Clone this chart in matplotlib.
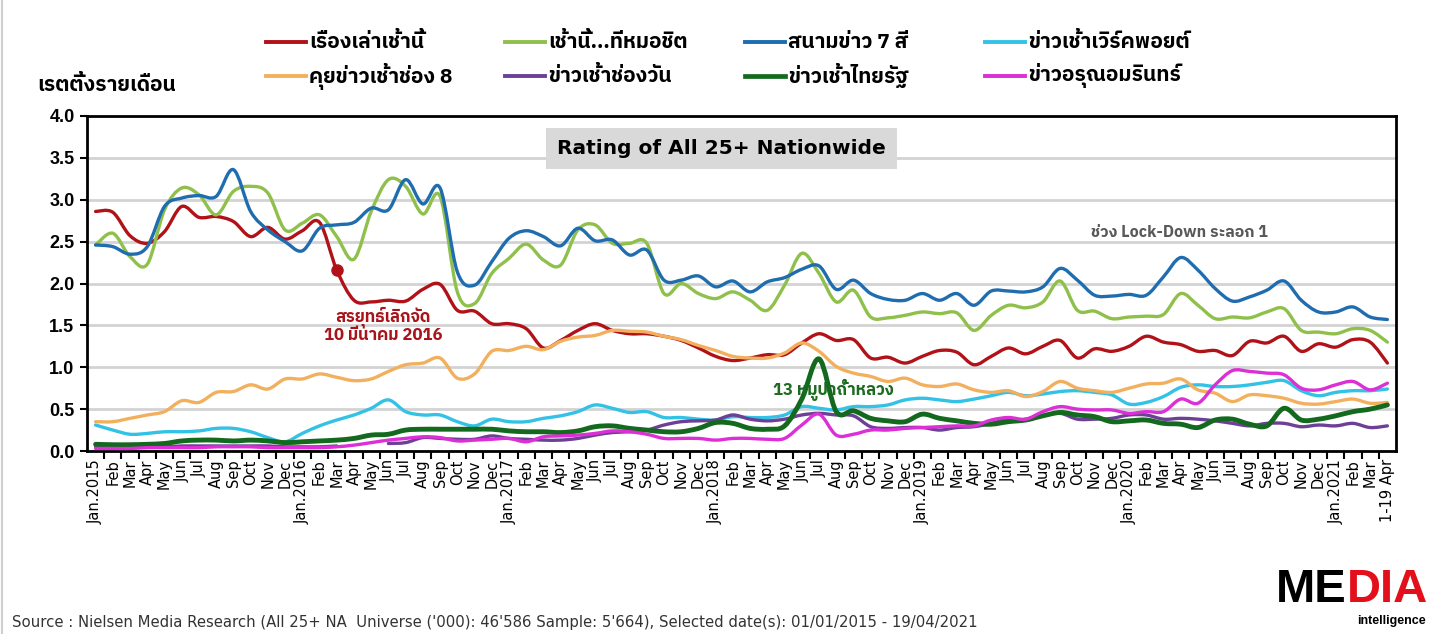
import numpy as np
import matplotlib
matplotlib.use("Agg")
import matplotlib.pyplot as plt
from matplotlib.path import Path
from matplotlib.patches import PathPatch
from matplotlib.lines import Line2D
from matplotlib import font_manager
from matplotlib.ft2font import FT2Font

# monthly rating, Jan 2015 .. 1-19 Apr 2021
month_names = ["Jan", "Feb", "Mar", "Apr", "May", "Jun",
               "Jul", "Aug", "Sep", "Oct", "Nov", "Dec"]
years = [2015, 2016, 2017, 2018, 2019, 2020, 2021]
labels = []
for yr in years:
    for m in month_names:
        labels.append(f"Jan.{yr}" if m == "Jan" else m)
labels = labels[:75] + ["1-19 Apr"]

series_names = ["เรื่องเล่าเช้านี้", "เช้านี้...ที่หมอชิต", "สนามข่าว 7 สี", "ข่าวเช้าเวิร์คพอยต์",
                "คุยข่าวเช้าช่อง 8", "ข่าวเช้าช่องวัน", "ข่าวเช้าไทยรัฐ", "ข่าวอรุณอมรินทร์"]
colors = ["#b01218", "#8fc04b", "#1f6daf", "#33c2e6",
          "#f2b05e", "#6e3f96", "#13691d", "#dc2fd6"]

rueang_lao = [2.86, 2.85, 2.57, 2.48, 2.62, 2.92, 2.79, 2.80, 2.74, 2.56, 2.67, 2.53,
              2.63, 2.73, 2.16, 1.80, 1.78, 1.80, 1.79, 1.93, 1.99, 1.68, 1.67, 1.52,
              1.52, 1.46, 1.23, 1.32, 1.44, 1.52, 1.44, 1.40, 1.40, 1.37, 1.32, 1.23,
              1.13, 1.08, 1.11, 1.15, 1.15, 1.29, 1.40, 1.32, 1.33, 1.11, 1.12, 1.05,
              1.13, 1.20, 1.18, 1.03, 1.13, 1.23, 1.16, 1.25, 1.32, 1.11, 1.22, 1.19,
              1.25, 1.37, 1.30, 1.27, 1.19, 1.20, 1.14, 1.31, 1.29, 1.37, 1.19, 1.28,
              1.24, 1.33, 1.30, 1.05]
mochit = [2.46, 2.60, 2.32, 2.23, 2.88, 3.14, 3.06, 2.82, 3.10, 3.16, 3.08, 2.64,
          2.72, 2.82, 2.56, 2.29, 2.86, 3.24, 3.16, 2.83, 3.04, 1.90, 1.76, 2.12,
          2.30, 2.47, 2.28, 2.22, 2.64, 2.70, 2.48, 2.48, 2.48, 1.88, 2.00, 1.88,
          1.82, 1.90, 1.80, 1.68, 1.98, 2.36, 2.12, 1.78, 1.92, 1.60, 1.59, 1.62,
          1.66, 1.64, 1.65, 1.44, 1.62, 1.74, 1.71, 1.78, 2.03, 1.68, 1.67, 1.58,
          1.60, 1.61, 1.63, 1.88, 1.74, 1.58, 1.60, 1.59, 1.66, 1.70, 1.44, 1.42,
          1.40, 1.46, 1.44, 1.30]
sanam_khao = [2.46, 2.44, 2.35, 2.44, 2.92, 3.02, 3.05, 3.04, 3.36, 2.86, 2.64, 2.50,
              2.39, 2.66, 2.70, 2.73, 2.90, 2.88, 3.24, 2.95, 3.14, 2.14, 1.98, 2.26,
              2.54, 2.63, 2.56, 2.45, 2.66, 2.51, 2.52, 2.34, 2.40, 2.04, 2.04, 2.09,
              1.96, 2.03, 1.90, 2.02, 2.07, 2.17, 2.21, 1.93, 2.04, 1.88, 1.81, 1.80,
              1.88, 1.80, 1.88, 1.74, 1.91, 1.91, 1.90, 1.96, 2.18, 2.04, 1.86, 1.85,
              1.87, 1.86, 2.08, 2.31, 2.16, 1.94, 1.79, 1.84, 1.92, 2.03, 1.80, 1.66,
              1.66, 1.72, 1.60, 1.57]
workpoint = [0.31, 0.25, 0.20, 0.21, 0.23, 0.23, 0.24, 0.27, 0.27, 0.23, 0.16, 0.11,
             0.21, 0.30, 0.37, 0.43, 0.51, 0.61, 0.47, 0.43, 0.43, 0.35, 0.30, 0.38,
             0.35, 0.35, 0.39, 0.42, 0.47, 0.55, 0.51, 0.46, 0.47, 0.40, 0.40, 0.38,
             0.37, 0.41, 0.40, 0.40, 0.43, 0.53, 0.51, 0.49, 0.53, 0.53, 0.55, 0.61,
             0.63, 0.61, 0.59, 0.62, 0.66, 0.70, 0.66, 0.68, 0.71, 0.72, 0.70, 0.67,
             0.56, 0.58, 0.65, 0.76, 0.79, 0.77, 0.77, 0.79, 0.82, 0.84, 0.72, 0.66,
             0.70, 0.72, 0.72, 0.74]
ch8 = [0.35, 0.35, 0.39, 0.43, 0.47, 0.60, 0.58, 0.70, 0.71, 0.79, 0.74, 0.86,
       0.86, 0.92, 0.88, 0.84, 0.86, 0.95, 1.03, 1.05, 1.11, 0.87, 0.92, 1.19,
       1.20, 1.25, 1.21, 1.31, 1.36, 1.38, 1.44, 1.43, 1.42, 1.37, 1.33, 1.26,
       1.20, 1.13, 1.11, 1.11, 1.17, 1.29, 1.19, 1.01, 0.93, 0.89, 0.83, 0.87,
       0.79, 0.77, 0.80, 0.73, 0.70, 0.72, 0.65, 0.71, 0.83, 0.75, 0.72, 0.70,
       0.75, 0.80, 0.81, 0.86, 0.73, 0.69, 0.59, 0.67, 0.66, 0.63, 0.57, 0.56,
       0.59, 0.62, 0.57, 0.58]
ch_one = [0.05, 0.05, 0.05, 0.05, 0.05, 0.06, 0.06, 0.06, 0.06, 0.06, 0.06, 0.05,
          0.05, 0.05, 0.06, np.nan, np.nan, 0.09, 0.10, 0.16, 0.15, 0.14, 0.14, 0.18,
          0.15, 0.14, 0.13, 0.13, 0.15, 0.19, 0.22, 0.23, 0.25, 0.31, 0.35, 0.36,
          0.37, 0.43, 0.38, 0.36, 0.38, 0.43, 0.45, 0.43, 0.42, 0.29, 0.27, 0.28,
          0.28, 0.25, 0.28, 0.29, 0.33, 0.38, 0.37, 0.42, 0.45, 0.38, 0.38, 0.39,
          0.43, 0.43, 0.38, 0.39, 0.38, 0.36, 0.33, 0.30, 0.33, 0.33, 0.29, 0.31,
          0.30, 0.33, 0.28, 0.30]
thairath = [0.08, 0.075, 0.075, 0.08, 0.09, 0.12, 0.13, 0.13, 0.12, 0.13, 0.12, 0.10,
            0.11, 0.12, 0.13, 0.15, 0.19, 0.20, 0.25, 0.26, 0.26, 0.26, 0.26, 0.26,
            0.24, 0.23, 0.23, 0.22, 0.24, 0.29, 0.30, 0.27, 0.25, 0.23, 0.23, 0.27,
            0.34, 0.33, 0.27, 0.26, 0.30, 0.62, 1.10, 0.47, 0.48, 0.39, 0.36, 0.35,
            0.44, 0.39, 0.36, 0.33, 0.32, 0.35, 0.37, 0.42, 0.46, 0.43, 0.41, 0.35,
            0.36, 0.37, 0.33, 0.32, 0.28, 0.37, 0.38, 0.32, 0.30, 0.51, 0.37, 0.38,
            0.42, 0.47, 0.50, 0.55]
amarin = [0.03, 0.03, 0.03, 0.04, 0.04, 0.04, 0.04, 0.05, 0.05, 0.05, 0.04, 0.04,
          0.04, 0.04, 0.05, 0.07, 0.10, 0.13, 0.15, 0.17, 0.16, 0.12, 0.13, 0.14,
          0.15, 0.11, 0.17, 0.18, 0.19, 0.21, 0.24, 0.23, 0.20, 0.15, 0.15, 0.15,
          0.13, 0.15, 0.15, 0.14, 0.15, 0.31, 0.44, 0.19, 0.20, 0.25, 0.25, 0.27,
          0.28, 0.29, 0.30, 0.30, 0.37, 0.40, 0.38, 0.47, 0.53, 0.50, 0.49, 0.49,
          0.45, 0.47, 0.47, 0.62, 0.57, 0.79, 0.96, 0.95, 0.93, 0.91, 0.75, 0.73,
          0.79, 0.83, 0.73, 0.81]

all_series = [rueang_lao, mochit, sanam_khao, workpoint, ch8, ch_one, thairath, amarin]
widths = [2.4, 2.4, 2.4, 2.4, 2.4, 2.4, 3.5, 2.4]


def find_thai_font():
    # pick an installed family that covers Thai, preferring one with a bold face
    found = {}
    for f in font_manager.fontManager.ttflist:
        try:
            cmap = FT2Font(f.fname).get_charmap()
        except Exception:
            continue
        if 0x0E01 not in cmap:
            continue
        score = found.get(f.name, 0)
        base = 0
        if "Thai" in f.name:
            base += 2
        if "Sans" in f.name:
            base += 1
        w = f.weight if isinstance(f.weight, int) else 400
        if w >= 600:
            base += 4
        found[f.name] = max(score, base)
    if not found:
        return "DejaVu Sans"
    return max(found.items(), key=lambda kv: kv[1])[0]


THAI = [find_thai_font(), "DejaVu Sans"]


def smooth_path(x, y):
    # Excel style smoothed line: cubic bezier through every point
    verts = [(x[0], y[0])]
    codes = [Path.MOVETO]
    n = len(x)
    for i in range(n - 1):
        xp, yp = (x[i - 1], y[i - 1]) if i > 0 else (x[i], y[i])
        xn, yn = (x[i + 2], y[i + 2]) if i + 2 < n else (x[i + 1], y[i + 1])
        c1 = (x[i] + (x[i + 1] - xp) / 6, y[i] + (y[i + 1] - yp) / 6)
        c2 = (x[i + 1] - (xn - x[i]) / 6, y[i + 1] - (yn - y[i]) / 6)
        verts += [c1, c2, (x[i + 1], y[i + 1])]
        codes += [Path.CURVE4] * 3
    return Path(verts, codes)


fig = plt.figure(figsize=(14.43, 6.34), dpi=100)
ax = fig.add_axes([87 / 1443, 1 - 451 / 634, (1396 - 87) / 1443, (451 - 116) / 634])

x_all = np.arange(len(labels))
for vals, col, lw in zip(all_series, colors, widths):
    vals = np.array(vals, dtype=float)
    ok = ~np.isnan(vals)
    # split at gaps
    start = None
    for i in range(len(vals) + 1):
        if i < len(vals) and ok[i]:
            if start is None:
                start = i
        elif start is not None:
            xs, ys = x_all[start:i], vals[start:i]
            if len(xs) > 1:
                ax.add_patch(PathPatch(smooth_path(xs, ys), fill=False, edgecolor=col,
                                       lw=lw, capstyle="round", joinstyle="round", zorder=3))
            start = None

# marker for 10 Mar 2016
ax.plot(x_all[14], rueang_lao[14], "o", color=colors[0], ms=8, zorder=4)

ax.set_xlim(-0.5, len(labels) - 0.5)
ax.set_ylim(0, 4)
ax.set_yticks(np.arange(0, 4.01, 0.5))
ax.set_yticklabels([f"{v:.1f}" for v in np.arange(0, 4.01, 0.5)],
                   fontsize=13, fontweight="bold", family="Liberation Sans")
ax.yaxis.grid(True, color="#d3d3d3", lw=2)
ax.set_axisbelow(True)
ax.tick_params(axis="y", direction="out", length=5, width=1.5, pad=4)

ax.set_xticks(x_all)
ax.set_xticklabels(labels, rotation=90, fontsize=10.5, family="DejaVu Sans")
ax.set_xticks(x_all[:-1] + 0.5, minor=True)
ax.tick_params(axis="x", which="major", length=0, pad=6)
ax.tick_params(axis="x", which="minor", direction="out", length=6, width=1.5)
for sp in ax.spines.values():
    sp.set_linewidth(2)
    sp.set_color("black")

# title box
ax.text(0.485, 0.904, "Rating of All 25+ Nationwide", transform=ax.transAxes,
        ha="center", va="center", fontsize=14.5, fontweight="bold",
        bbox=dict(boxstyle="square,pad=0.55", facecolor="#d9d9d9", edgecolor="none"))

# annotations
ax.text(16.7, 1.51, "สรยุทธ์เลิกจัด\n10 มีนาคม 2016", ha="center", va="center",
        fontsize=12, fontweight="bold", color="#a8141a", family=THAI, linespacing=1.05)
ax.text(39.3, 0.73, "13 หมูป่าถ้ำหลวง", ha="left", va="center",
        fontsize=12, fontweight="bold", color="#1c6b21", family=THAI, zorder=5)
ax.text(62.9, 2.61, "ช่วง Lock-Down ระลอก 1", ha="center", va="center",
        fontsize=11.5, fontweight="bold", color="#595959", family=THAI)

# y axis title
fig.text(37 / 1443, 1 - 85 / 634, "เรตติ้งรายเดือน", ha="left", va="center",
         fontsize=15, fontweight="bold", family=THAI)

# legend, 2 rows x 4 columns
col_x = [266, 505, 745, 985]
row_y = [42, 76]
for k, (name, col) in enumerate(zip(series_names, colors)):
    px = col_x[k % 4]
    py = 1 - row_y[k // 4] / 634
    fig.add_artist(Line2D([px / 1443, (px + 40) / 1443], [py, py], color=col,
                          lw=3.4 if k == 6 else 2.8, transform=fig.transFigure))
    fig.text((px + 43) / 1443, py, name, ha="left", va="center",
             fontsize=15, fontweight="bold", family=THAI)

# source line
fig.text(12 / 1443, 1 - 622 / 634,
         "Source : Nielsen Media Research (All 25+ NA  Universe ('000): 46'586 Sample: 5'664), "
         "Selected date(s): 01/01/2015 - 19/04/2021",
         ha="left", va="center", fontsize=10.7, color="#333333", family="DejaVu Sans")

# logo
fig.text(1347 / 1443, 1 - 590 / 634, "ME", ha="right", va="center", fontsize=34,
         fontweight="bold", color="black", family="Liberation Sans")
fig.text(1347 / 1443, 1 - 590 / 634, "DIA", ha="left", va="center", fontsize=34,
         fontweight="bold", color="#e3101b", family="Liberation Sans")
fig.text(1426 / 1443, 1 - 621 / 634, "intelligence", ha="right", va="center", fontsize=9,
         fontweight="bold", color="black", family="Liberation Sans")

fig.add_artist(Line2D([0.0015, 0.0015], [0, 1], color="#cfcfcf", lw=1.5,
                      transform=fig.transFigure))

fig.savefig("out.png", dpi=100)
